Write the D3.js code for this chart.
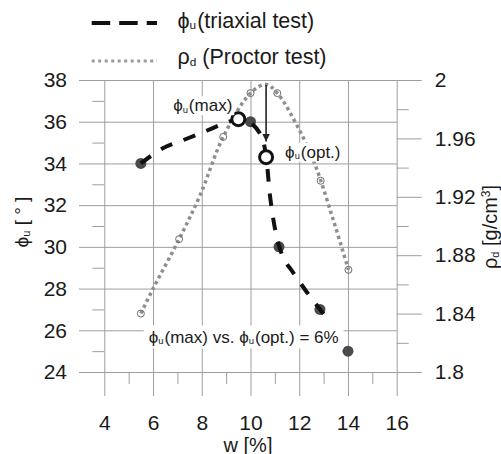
<!DOCTYPE html>
<html>
<head>
<meta charset="utf-8">
<script src="https://cdn.jsdelivr.net/npm/d3@7"></script>
<style>
  html, body { margin: 0; padding: 0; background: #fff; }
  svg { display: block; font-family: "Liberation Sans", Arial, sans-serif; }
</style>
</head>
<body>
<svg id="chart" width="501" height="454"></svg>
<script>
// Water content w [%] and measured friction angle (triaxial tests)
const phiW   = [5.5, 10.0, 11.17, 12.85, 14.0];
const phiVal = [34.0, 36.0, 30.0, 27.0, 25.0];

// Fitted trend of the friction angle
const phiFitW   = [5.5, 6.4, 7.2, 7.9, 8.5, 9.0, 9.5, 10.0, 10.45, 10.64, 10.8, 11.0, 11.17, 11.4, 11.7, 12.3, 13.05];
const phiFitVal = [34.0, 34.73, 35.1, 35.42, 35.72, 35.95, 36.12, 35.95, 35.3, 34.3, 32.45, 30.9, 30.05, 29.35, 28.85, 27.85, 26.7];

// Characteristic points: maximum and value at optimum water content
const phiMax = {w: 9.5, phi: 36.12};
const phiOpt = {w: 10.64, phi: 34.3};

// Dry density from the Proctor test [g/cm3]
const rhoW   = [5.5, 7.07, 8.88, 10.0, 11.1, 12.88, 14.02];
const rhoVal = [1.840, 1.891, 1.961, 1.991, 1.991, 1.931, 1.870];

// Proctor curve
const rhoFitW   = [5.5, 6.0, 7.07, 7.93, 8.88, 10.0, 10.64, 11.1, 12.03, 12.65, 13.4, 14.02];
const rhoFitVal = [1.840, 1.857, 1.891, 1.921, 1.961, 1.991, 1.997, 1.991, 1.965, 1.942, 1.904, 1.870];

// Arrow from the Proctor optimum down to phi_u(opt.)
const arrowW = 10.64;
const arrowFromPhi = 37.76;
const arrowToPhi = 35.05;

// Axis ticks
const xMajor = [4, 6, 8, 10, 12, 14, 16];
const xMinor = [5, 7, 9, 11, 13, 15];
const yMajor = [24, 26, 28, 30, 32, 34, 36, 38];
const yMinor = [25, 27, 29, 31, 33, 35, 37];
const rMajor = [1.8, 1.84, 1.88, 1.92, 1.96, 2.0];
const rMinor = [1.82, 1.86, 1.90, 1.94, 1.98];

const svg = d3.select("#chart");
const gridColor = "#9e9e9e";
const textColor = "#1a1a1a";

const x  = d3.scaleLinear().domain([4, 16]).range([104.3, 396.7]);
const yL = d3.scaleLinear().domain([24, 38]).range([372, 80]);
const yR = d3.scaleLinear().domain([1.8, 2.0]).range([372, 80]);

function styleAxis(g) {
  g.select(".domain").remove();
  g.selectAll(".tick line").attr("stroke", gridColor).attr("stroke-width", 1);
  g.selectAll(".tick text")
    .attr("fill", textColor)
    .style("font-family", '"Liberation Sans", Arial, sans-serif')
    .style("font-size", "21px");
}

// Horizontal grid + left labels
svg.append("g")
  .attr("transform", "translate(79,0)")
  .call(d3.axisLeft(yL).tickValues(yMajor).tickSize(-318).tickPadding(12).tickFormat(d3.format("d")))
  .call(styleAxis);

// Left minor ticks
svg.append("g")
  .attr("transform", `translate(${x(4)},0)`)
  .call(d3.axisLeft(yL).tickValues(yMinor).tickSize(12).tickFormat(""))
  .call(styleAxis);

// Vertical grid + bottom labels
svg.append("g")
  .attr("transform", "translate(0,396)")
  .call(d3.axisBottom(x).tickValues(xMajor).tickSize(-316).tickPadding(19).tickFormat(d3.format("d")))
  .call(styleAxis);

// Bottom minor ticks
svg.append("g")
  .attr("transform", `translate(0,${yL(24)})`)
  .call(d3.axisBottom(x).tickValues(xMinor).tickSize(12).tickFormat(""))
  .call(styleAxis);

// Right axis (dry density)
svg.append("g")
  .attr("transform", `translate(${x(16)},0)`)
  .call(d3.axisRight(yR).tickValues(rMajor).tickSize(25).tickPadding(13).tickFormat(d => String(+d.toFixed(2))))
  .call(styleAxis);

svg.append("g")
  .attr("transform", `translate(${x(16)},0)`)
  .call(d3.axisRight(yR).tickValues(rMinor).tickSize(12).tickFormat(""))
  .call(styleAxis);

// Proctor curve (dotted)
const rhoLine = d3.line().x(d => x(d[0])).y(d => yR(d[1])).curve(d3.curveCatmullRom.alpha(0.5));
svg.append("path")
  .datum(d3.zip(rhoFitW, rhoFitVal))
  .attr("d", rhoLine)
  .attr("fill", "none")
  .attr("stroke", "#8e8e8e")
  .attr("stroke-width", 3.5)
  .attr("stroke-dasharray", "3.3,3.3");

svg.append("g").selectAll("circle")
  .data(d3.zip(rhoW, rhoVal))
  .join("circle")
  .attr("cx", d => x(d[0]))
  .attr("cy", d => yR(d[1]))
  .attr("r", 3.5)
  .attr("fill", "none")
  .attr("stroke", "#6e6e6e")
  .attr("stroke-width", 1);

// Measured friction angles
svg.append("g").selectAll("circle")
  .data(d3.zip(phiW, phiVal))
  .join("circle")
  .attr("cx", d => x(d[0]))
  .attr("cy", d => yL(d[1]))
  .attr("r", 5.5)
  .attr("fill", "#4a4a4a");

// Friction angle trend (dashed)
const phiLine = d3.line().x(d => x(d[0])).y(d => yL(d[1])).curve(d3.curveCatmullRom.alpha(0.5));
svg.append("path")
  .datum(d3.zip(phiFitW, phiFitVal))
  .attr("d", phiLine)
  .attr("fill", "none")
  .attr("stroke", "#111")
  .attr("stroke-width", 4)
  .attr("stroke-dasharray", "12.5,12");

// Characteristic points
svg.append("g").selectAll("circle")
  .data([phiMax, phiOpt])
  .join("circle")
  .attr("cx", d => x(d.w))
  .attr("cy", d => yL(d.phi))
  .attr("r", 6.5)
  .attr("fill", "#fff")
  .attr("stroke", "#111")
  .attr("stroke-width", 3);

// Arrow
const defs = svg.append("defs");
defs.append("marker")
  .attr("id", "arrowhead")
  .attr("viewBox", "0 0 10 10")
  .attr("refX", 10).attr("refY", 5)
  .attr("markerWidth", 8).attr("markerHeight", 9)
  .attr("markerUnits", "userSpaceOnUse")
  .attr("orient", "auto")
  .append("path")
  .attr("d", "M0,0 L10,5 L0,10 Z")
  .attr("fill", "#222");

svg.append("line")
  .attr("x1", x(arrowW)).attr("y1", yL(arrowFromPhi))
  .attr("x2", x(arrowW)).attr("y2", yL(arrowToPhi))
  .attr("stroke", "#222")
  .attr("stroke-width", 1.6)
  .attr("marker-end", "url(#arrowhead)");

// Text with a Greek symbol followed by a small subscript
function symbolText(g, sym, sub, rest, size, subGap) {
  const t = g.append("text")
    .attr("fill", textColor)
    .style("font-size", size + "px");
  t.append("tspan").text(sym);
  t.append("tspan").attr("dy", size * 0.08).style("font-size", (size * 0.55) + "px").text(sub);
  t.append("tspan").attr("dy", -size * 0.08).attr("dx", subGap).text(rest);
  return t;
}

// White box behind a label so the grid does not run through it
function withBackground(t, padX, padY) {
  const b = t.node().getBBox();
  d3.select(t.node().parentNode).insert("rect", () => t.node())
    .attr("x", b.x - padX).attr("y", b.y - padY)
    .attr("width", b.width + 2 * padX).attr("height", b.height + 2 * padY)
    .attr("fill", "#fff");
}

const ann = svg.append("g");

const tMax = symbolText(ann.append("g"), "\u03D5", "u", "(max)", 17, 1)
  .attr("x", x(phiMax.w) - 6).attr("y", yL(phiMax.phi) - 8)
  .attr("text-anchor", "end");
withBackground(tMax, 2, 0);

const tOpt = symbolText(ann.append("g"), "\u03D5", "u", "(opt.)", 17, 1)
  .attr("x", x(phiOpt.w) + 19).attr("y", yL(phiOpt.phi) + 0.5);
withBackground(tOpt, 2, 0);

const tDiff = ann.append("g").append("text")
  .attr("fill", textColor)
  .style("font-size", "17px")
  .attr("x", x(9.72)).attr("y", yL(25.7) + 6)
  .attr("text-anchor", "middle");
tDiff.append("tspan").text("\u03D5");
tDiff.append("tspan").attr("dy", 1.4).style("font-size", "9.5px").text("u");
tDiff.append("tspan").attr("dy", -1.4).attr("dx", 1).text("(max) vs. \u03D5");
tDiff.append("tspan").attr("dy", 1.4).style("font-size", "9.5px").text("u");
tDiff.append("tspan").attr("dy", -1.4).attr("dx", 1).text("(opt.) = 6%");
withBackground(tDiff, 5, 2);

// Legend
const leg = svg.append("g");
leg.append("line")
  .attr("x1", 91.7).attr("x2", 157).attr("y1", 23).attr("y2", 23)
  .attr("stroke", "#111").attr("stroke-width", 4).attr("stroke-dasharray", "18.5,9");
symbolText(leg, "\u03D5", "u", "(triaxial test)", 21.5, 1)
  .attr("x", 177.5).attr("y", 27.5);

leg.append("line")
  .attr("x1", 91.7).attr("x2", 157).attr("y1", 61).attr("y2", 61)
  .attr("stroke", "#9a9a9a").attr("stroke-width", 3).attr("stroke-dasharray", "3,3.5");
symbolText(leg, "\u03C1", "d", " (Proctor test)", 21.5, 0)
  .attr("x", 177.5).attr("y", 64);

// Axis titles
svg.append("text")
  .attr("x", 248).attr("y", 451.5)
  .attr("text-anchor", "middle")
  .attr("fill", textColor)
  .style("font-size", "20px")
  .text("w [%]");

const yt = svg.append("text")
  .attr("transform", "translate(28,222) rotate(-90)")
  .attr("text-anchor", "middle")
  .attr("fill", textColor)
  .style("font-size", "19px");
yt.append("tspan").text("\u03D5");
yt.append("tspan").attr("dy", 1.6).style("font-size", "11px").text("u");
yt.append("tspan").attr("dy", -1.6).text(" [ \u00B0 ]");

const rt = svg.append("text")
  .attr("transform", "translate(497,227) rotate(-90)")
  .attr("text-anchor", "middle")
  .attr("fill", textColor)
  .style("font-size", "20px");
rt.append("tspan").text("\u03C1");
rt.append("tspan").attr("dy", 1.6).style("font-size", "11px").text("d");
rt.append("tspan").attr("dy", -1.6).text(" [g/cm");
rt.append("tspan").attr("dy", -7).style("font-size", "12px").text("3");
rt.append("tspan").attr("dy", 7).text("]");
</script>
</body>
</html>
